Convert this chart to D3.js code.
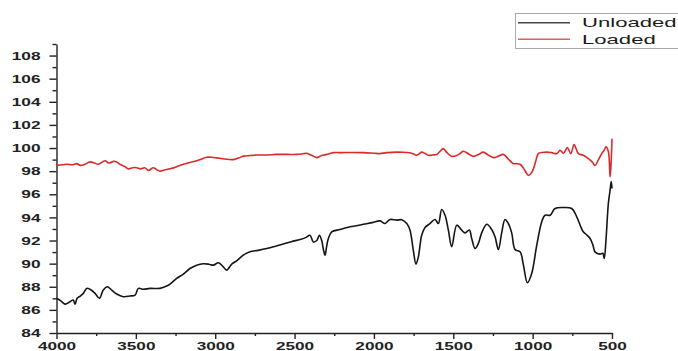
<!DOCTYPE html>
<html>
<head>
<meta charset="utf-8">
<script src="https://cdn.jsdelivr.net/npm/d3@7"></script>
<style>
  html, body { margin: 0; padding: 0; background: #fff; }
  svg { display: block; }
</style>
</head>
<body>
<svg id="chart" width="678" height="351"></svg>
<script>
// ---- Data ----
const seriesNames = ["Unloaded", "Loaded"];
const xTicks = [4000, 3500, 3000, 2500, 2000, 1500, 1000, 500];
const yTicks = [84, 86, 88, 90, 92, 94, 96, 98, 100, 102, 104, 106, 108];

const unloadedWn = [4000,3975,3946,3915,3895,3883,3870,3850,3831,3810,3789,3757,3730,3705,3680,3652,3621,3579,3537,3505,3484,3453,3411,3348,3306,3285,3243,3201,3159,3117,3075,3040,3012,2980,2949,2928,2896,2865,2823,2781,2730,2675,2620,2571,2520,2466,2430,2403,2382,2360,2344,2329,2318,2308,2298,2287,2266,2214,2161,2120,2067,2010,1962,1930,1899,1856,1825,1793,1773,1752,1735,1720,1699,1678,1647,1615,1594,1573,1552,1531,1510,1478,1447,1426,1399,1384,1363,1342,1321,1289,1258,1237,1216,1195,1174,1153,1132,1111,1079,1058,1033,1006,974,943,922,890,859,806,754,722,700,681,660,638,620,607,575,558,549,538,523,512,505,500];
const unloadedT = [87.0,86.8,86.5,86.7,86.85,86.5,87.0,87.2,87.43,87.86,87.78,87.43,87.0,87.71,88.0,87.71,87.37,87.14,87.2,87.28,87.86,87.78,87.86,87.86,88.06,88.23,88.72,89.1,89.58,89.87,89.99,89.95,89.87,90.07,89.72,89.44,89.96,90.24,90.73,91.02,91.15,91.31,91.5,91.69,91.9,92.09,92.25,92.46,91.88,92.0,92.46,92.0,91.2,90.73,91.5,92.17,92.75,92.95,93.15,93.25,93.41,93.55,93.7,93.47,93.82,93.76,93.8,93.47,92.9,91.17,89.96,90.59,92.46,93.12,93.47,93.82,93.47,94.68,94.19,92.9,91.46,93.33,92.9,92.66,92.9,92.17,91.31,91.75,92.66,93.41,92.95,92.32,91.23,92.66,93.82,93.47,92.66,91.23,91.02,89.87,88.35,89.15,91.6,93.61,94.19,94.19,94.77,94.86,94.77,94.05,93.3,92.75,92.5,92.17,91.6,91.02,90.82,90.9,90.45,92.03,95.2,96.35,97.1,96.5];

const loadedWn = [4000,3960,3936,3900,3873,3850,3820,3789,3760,3740,3715,3694,3670,3640,3621,3600,3570,3547,3520,3495,3470,3445,3421,3390,3370,3348,3320,3285,3240,3201,3160,3117,3085,3054,3020,2990,2940,2886,2850,2823,2780,2738,2680,2612,2550,2486,2450,2423,2390,2360,2330,2297,2256,2200,2150,2067,2000,1962,1920,1856,1800,1773,1745,1730,1715,1699,1680,1657,1630,1604,1585,1563,1540,1510,1478,1455,1437,1405,1374,1340,1311,1280,1248,1215,1185,1150,1122,1100,1079,1055,1040,1027,1010,995,980,964,940,911,880,848,827,806,781,760,739,725,712,681,649,625,607,585,565,550,538,523,512,505,500];
const loadedT = [98.5,98.55,98.6,98.55,98.65,98.5,98.6,98.8,98.7,98.6,98.75,98.9,98.7,98.85,98.8,98.6,98.4,98.2,98.3,98.3,98.2,98.3,98.07,98.3,98.15,98.0,98.1,98.2,98.4,98.6,98.75,98.9,99.05,99.2,99.2,99.15,99.05,99.0,99.15,99.3,99.35,99.4,99.4,99.45,99.45,99.45,99.5,99.55,99.35,99.17,99.35,99.45,99.6,99.6,99.62,99.6,99.55,99.52,99.6,99.65,99.62,99.6,99.45,99.37,99.5,99.65,99.55,99.37,99.4,99.45,99.7,99.95,99.6,99.28,99.35,99.55,99.72,99.5,99.28,99.45,99.65,99.4,99.17,99.3,99.45,99.0,98.65,98.65,98.6,98.2,97.85,97.64,97.8,98.2,98.9,99.52,99.62,99.65,99.6,99.52,99.8,99.55,100.04,99.52,100.3,99.9,99.52,99.37,99.08,98.8,98.5,99.0,99.52,99.8,100.1,99.7,97.5,98.9,100.8];

const colors = { Unloaded: "#151515", Loaded: "#dc2a2a" };

// ---- Chart ----
const svg = d3.select("#chart");
svg.append("rect").attr("width", 678).attr("height", 351).attr("fill", "#fff");

const x = d3.scaleLinear().domain([4000, 500]).range([56.5, 612]);
const y = d3.scaleLinear().domain([84, 109]).range([333, 44]);

const FONT = "'Liberation Sans', Arial, sans-serif";
const SX = 1.5;

function stretchTicks(g, sx) {
  g.selectAll(".tick text").each(function() {
    const t = d3.select(this);
    const xv = +t.attr("x") || 0;
    t.attr("x", xv / sx).attr("transform", `scale(${sx},1)`);
  });
}

// minor ticks
const yMinor = d3.range(85, 110, 2);
const xMinor = d3.range(3750, 500, -500);

const gyMinor = svg.append("g").attr("transform", "translate(56.5,0)")
  .call(d3.axisLeft(y).tickValues(yMinor).tickSize(4).tickFormat(""));
gyMinor.select(".domain").remove();
const gxMinor = svg.append("g").attr("transform", "translate(0,333)")
  .call(d3.axisBottom(x).tickValues(xMinor).tickSize(3).tickFormat(""));
gxMinor.select(".domain").remove();

const gy = svg.append("g").attr("transform", "translate(56.5,0)")
  .call(d3.axisLeft(y).tickValues(yTicks).tickSize(7).tickSizeOuter(0).tickPadding(9).tickFormat(d3.format("d")));
const gx = svg.append("g").attr("transform", "translate(0,333)")
  .call(d3.axisBottom(x).tickValues(xTicks).tickSize(6).tickSizeOuter(0).tickPadding(3).tickFormat(d3.format("d")));

[gy, gx, gyMinor, gxMinor].forEach(g => {
  g.selectAll("path, line").attr("stroke", "#222").attr("stroke-width", 1.4);
  g.selectAll("text").attr("font-family", FONT).attr("font-weight", "bold")
    .attr("font-size", 11.5).attr("fill", "#222");
});
gx.selectAll("text").attr("font-size", 11);
stretchTicks(gy, SX);
stretchTicks(gx, SX * 1.04);

// lines
const line = d3.line().x(d => x(d[0])).y(d => y(d[1])).curve(d3.curveCatmullRom.alpha(0.5));
const dataU = unloadedWn.map((w, i) => [w, unloadedT[i]]);
const dataL = loadedWn.map((w, i) => [w, loadedT[i]]);

svg.append("path").datum(dataL).attr("d", line)
  .attr("fill", "none").attr("stroke", colors.Loaded).attr("stroke-width", 1.6)
  .attr("stroke-linejoin", "round");
svg.append("path").datum(dataU).attr("d", line)
  .attr("fill", "none").attr("stroke", colors.Unloaded).attr("stroke-width", 1.6)
  .attr("stroke-linejoin", "round");

// legend
const lg = svg.append("g");
lg.append("rect").attr("x", 515.5).attr("y", 13.5).attr("width", 200).attr("height", 35)
  .attr("fill", "#fff").attr("stroke", "#aaa").attr("stroke-width", 1);
seriesNames.forEach((name, i) => {
  const cy = 22.7 + i * 16.6;
  lg.append("line").attr("x1", 518).attr("x2", 570).attr("y1", cy).attr("y2", cy)
    .attr("stroke", name === "Unloaded" ? "#444" : "#e06060").attr("stroke-width", 1.5);
  lg.append("text").attr("transform", `translate(582,${cy + 4.7}) scale(1.7,1)`)
    .attr("font-family", FONT).attr("font-size", 13).attr("fill", "#1a1a1a")
    .text(name);
});
</script>
</body>
</html>
